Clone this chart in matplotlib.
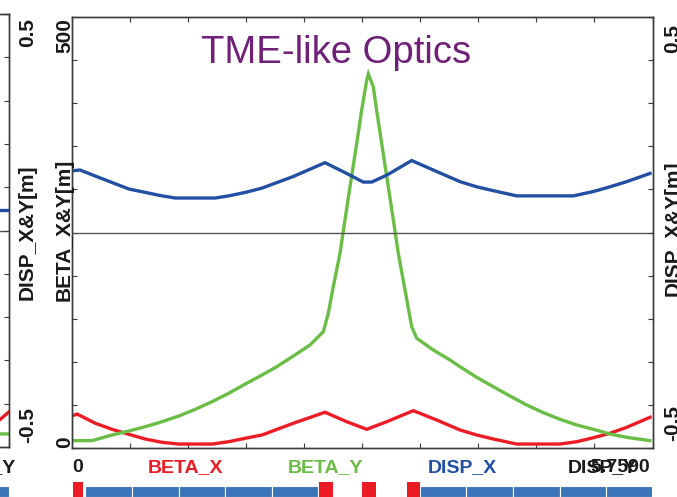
import matplotlib
matplotlib.use('Agg')
import matplotlib.pyplot as plt
import numpy as np
from matplotlib.patches import Rectangle

plt.rcParams['font.family'] = ['Liberation Sans', 'DejaVu Sans']

W, H = 677, 497
s_len = 5.759

# optics functions along the cell (s in m)
s_bx = [0.000, 0.050, 0.231, 0.397, 0.563, 0.727, 0.893, 1.059, 1.389, 1.555, 1.719, 1.885,
        2.196, 2.510, 2.725, 2.924, 3.122, 3.386, 3.618, 3.849, 4.015, 4.180, 4.412, 4.841,
        5.007, 5.172, 5.337, 5.503, 5.734]
beta_x = [37.1, 39.4, 28.7, 21.7, 15.9, 10.4, 6.6, 4.6, 4.6, 7.3, 11.3, 15.1,
          28.7, 41.5, 30.5, 21.7, 30.5, 43.3, 32.5, 20.9, 15.1, 10.4, 4.6, 4.6,
          7.3, 11.9, 17.1, 24.0, 35.6]

s_by = [0.000, 0.198, 0.397, 0.563, 0.727, 0.893, 1.059, 1.223, 1.389, 1.555, 1.719, 1.885,
        2.031, 2.196, 2.361, 2.493, 2.543, 2.592, 2.659, 2.708, 2.758, 2.825, 2.874, 2.924,
        2.940, 2.989, 3.022, 3.072, 3.138, 3.188, 3.237, 3.304, 3.370, 3.420, 3.584, 3.750,
        3.849, 4.015, 4.180, 4.345, 4.511, 4.676, 4.841, 5.007, 5.172, 5.337, 5.503, 5.734]
beta_y = [8.5, 8.5, 15.1, 19.7, 24.7, 30.5, 37.1, 44.9, 53.7, 63.5, 74.2, 84.7,
          94.3, 106.7, 119.5, 134.9, 156.3, 187.1, 225.9, 264.5, 303.1, 353.5, 392.1, 426.9,
          433.9, 419.1, 392.1, 353.5, 303.1, 264.5, 225.9, 183.3, 140.7, 127.3, 113.7, 102.1,
          94.3, 82.0, 71.1, 60.3, 49.9, 41.0, 33.3, 26.7, 21.7, 16.2, 12.4, 8.5]

s_dx = [0.000, 0.079, 0.231, 0.397, 0.563, 0.727, 0.893, 1.025, 1.422, 1.555, 1.719, 1.885,
        2.196, 2.510, 2.725, 2.890, 2.973, 3.122, 3.370, 3.584, 3.849, 4.015, 4.180, 4.412,
        4.973, 5.172, 5.337, 5.503, 5.734]
disp_x = [0.143, 0.145, 0.131, 0.116, 0.101, 0.093, 0.085, 0.080, 0.080, 0.085, 0.093, 0.103,
          0.130, 0.162, 0.137, 0.117, 0.117, 0.133, 0.167, 0.145, 0.118, 0.106, 0.097, 0.085,
          0.085, 0.095, 0.106, 0.118, 0.137]

# tail of the previous cell
s_prev = [5.600, 5.669, 5.759]
prev_beta_x = [27.0, 31.6, 40.6]
prev_beta_y = [15.5, 15.1, 15.1]
prev_disp_x = [0.047, 0.047, 0.047]

# lattice elements (start, end) in m
red_elems = [(0.01, 0.11), (2.45, 2.59), (2.88, 3.02), (3.32, 3.45)]
blue_elems = [(0.13, 0.60), (0.60, 1.06), (1.06, 1.52), (1.52, 1.98), (1.98, 2.44),
              (3.45, 3.91), (3.91, 4.38), (4.38, 4.84), (4.84, 5.30), (5.30, 5.759)]

c_bx = '#ec1c24'
c_by = '#6abd45'
c_dx = '#2150a3'
c_lat_red = '#ed1c24'
c_lat_blue = '#3b74b8'
c_frame = '#3a3a3a'

fig = plt.figure(figsize=(W / 100, H / 100), dpi=100)


def box(x0, x1, y0, y1):
    return [x0 / W, 1 - y1 / H, (x1 - x0) / W, (y1 - y0) / H]


def ptext(x, y, s, **kw):
    fig.text(x / W, 1 - y / H, s, **kw)


def optics_axes(rect, sb_x, bx, sb_y, by, sd_x, dx):
    a = fig.add_axes(rect)
    a.set_xlim(0, s_len)
    a.set_ylim(0, 500)
    b = a.twinx()
    b.set_ylim(-0.5, 0.5)
    b.axhline(0, color='#555555', lw=1.0, zorder=1)
    a.plot(sb_x, bx, color=c_bx, lw=2.4, solid_joinstyle='miter')
    a.plot(sb_y, by, color=c_by, lw=2.4, solid_joinstyle='miter')
    b.plot(sd_x, dx, color=c_dx, lw=2.4, solid_joinstyle='miter')
    a.set_xticks(np.linspace(0, s_len, 11))
    a.set_yticks(np.arange(0, 501, 50))
    b.set_yticks(np.linspace(-0.5, 0.5, 11))
    a.tick_params(direction='in', length=3.5, width=0.8, color=c_frame, top=True, right=False,
                  labelbottom=False, labelleft=False)
    b.tick_params(direction='in', length=3.5, width=0.8, color=c_frame, labelright=False)
    for ax_ in (a, b):
        for sp in ax_.spines.values():
            sp.set_color(c_frame)
            sp.set_linewidth(1.0)
    return a, b


def lattice_axes(rect):
    a = fig.add_axes(rect)
    a.set_xlim(0, s_len)
    a.set_ylim(0, 1)
    a.axis('off')
    for s0, s1 in blue_elems:
        a.add_patch(Rectangle((s0, 0), s1 - s0, 0.73, facecolor=c_lat_blue,
                              edgecolor='white', lw=0.8))
    for s0, s1 in red_elems:
        a.add_patch(Rectangle((s0, 0), s1 - s0, 1.0, facecolor=c_lat_red, lw=0))
    return a


# previous cell, mostly outside the figure
optics_axes(box(-571.5, 9, 14, 447), s_prev, prev_beta_x, s_prev, prev_beta_y, s_prev, prev_disp_x)
lattice_axes(box(-571.5, 9, 482, 497))

# main cell
ax, ax2 = optics_axes(box(72, 652.5, 17, 448), s_bx, beta_x, s_by, beta_y, s_dx, disp_x)
lattice_axes(box(72, 652.5, 482, 497))

ptext(201, 63, 'TME-like Optics', fontsize=27.5, color='#702078', ha='left', va='baseline')

lab = dict(fontsize=15, weight='bold', rotation=90, rotation_mode='anchor', va='baseline',
           color='#1a1a1a')
# left cell's dispersion axis
ptext(33, 18, '0.5', ha='right', **lab)
ptext(33, 443, '-0.5', ha='left', **lab)
ptext(33, 232, 'DISP_X&Y[m]', ha='center', **lab)
# beta axis
ptext(70, 18, '500', ha='right', **lab)
ptext(70, 448, '0', ha='left', **lab)
ptext(70, 230, 'BETA_X&Y[m]', ha='center', **lab)
# dispersion axis
ptext(678.5, 24, '0.5', ha='right', **lab)
ptext(678.5, 441, '-0.5', ha='left', **lab)
ptext(678.5, 228, 'DISP_X&Y[m]', ha='center', **lab)

bot = dict(fontsize=14, weight='bold', va='baseline')
ptext(72, 472, '0', ha='left', color='#1a1a1a', **bot)
ptext(148, 472, 'BETA_X', ha='left', color=c_bx, **bot)
ptext(288, 472, 'BETA_Y', ha='left', color=c_by, **bot)
ptext(428, 472, 'DISP_X', ha='left', color=c_dx, **bot)
ptext(568, 472, 'DISP_Y', ha='left', color='#1a1a1a', **bot)
ptext(650, 472, '5.7590', ha='right', color='#1a1a1a', **bot)
ptext(16, 472, 'DISP_Y', ha='right', color='#1a1a1a', **bot)

fig.savefig('out.png', dpi=100)
